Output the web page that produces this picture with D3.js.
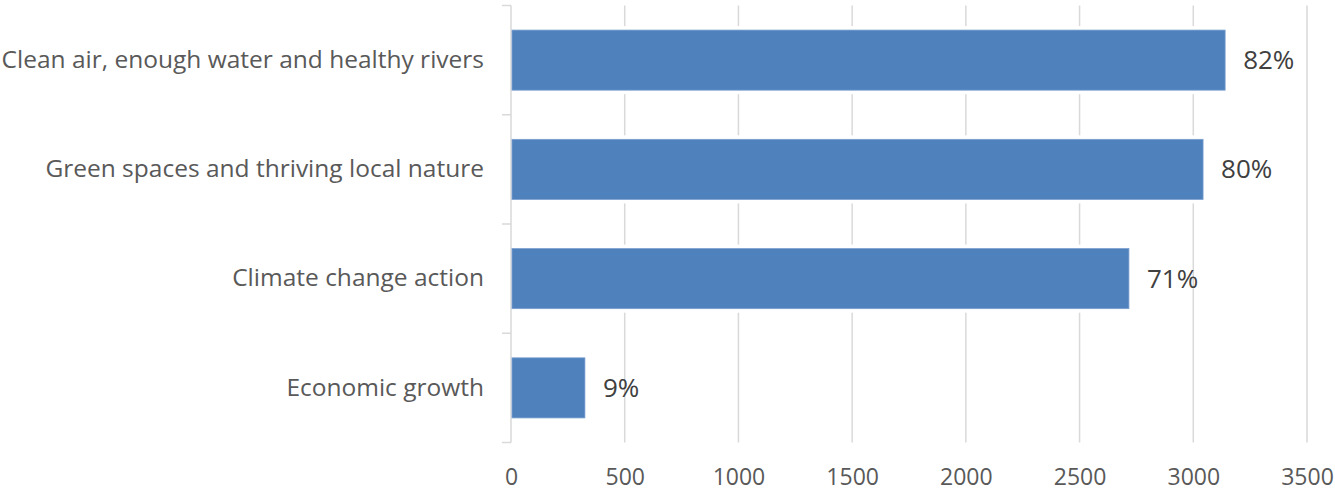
<!DOCTYPE html>
<html>
<head>
<meta charset="utf-8">
<script src="https://cdn.jsdelivr.net/npm/d3@7"></script>
<style>
  body { margin: 0; background: #fff; }
  text { font-family: "Open Sans", "Noto Sans", sans-serif; }
</style>
</head>
<body>
<script>
var categories = [
    "Clean air, enough water and healthy rivers",
    "Green spaces and thriving local nature",
    "Climate change action",
    "Economic growth"
];
var values = [3140, 3043, 2717, 325];
var percentLabels = ["82%", "80%", "71%", "9%"];
var xTicks = [0, 500, 1000, 1500, 2000, 2500, 3000, 3500];

var svg = d3.select("body")
    .append("svg")
    .attr("width", 1335)
    .attr("height", 491)
    .style("display", "block");

var margin = {top: 5.5, right: 28, bottom: 48.5, left: 511};
var width = 1335 - margin.left - margin.right;
var height = 491 - margin.top - margin.bottom;
var g = svg.append("g").attr("transform", "translate(" + margin.left + "," + margin.top + ")");

var x = d3.scaleLinear().domain([0, 3500]).range([0, width]);
var y = d3.scaleBand().domain(categories).range([0, height])
    .paddingInner(0.45).paddingOuter(0.225);

// gridlines
g.append("g")
    .selectAll("line")
    .data(xTicks.slice(1))
    .enter()
    .append("line")
    .attr("x1", function(d) { return x(d); })
    .attr("x2", function(d) { return x(d); })
    .attr("y1", 0)
    .attr("y2", height)
    .attr("stroke", "#d9d9d9")
    .attr("stroke-width", 1.5);

// x axis labels
var xAxis = d3.axisBottom(x).tickValues(xTicks).tickSize(0).tickPadding(26)
    .tickFormat(d3.format("d"));
g.append("g")
    .attr("transform", "translate(0," + height + ")")
    .call(xAxis)
    .call(function(s) { s.select(".domain").remove(); })
    .selectAll("text")
    .style("font-size", "23px")
    .style("font-family", "'Open Sans', sans-serif")
    .attr("fill", "#595959");

// y axis
var yAxis = d3.axisLeft(y).tickSize(0).tickPadding(27);
var yg = g.append("g").call(yAxis);
yg.select(".domain").remove();
yg.selectAll("text")
    .style("font-size", "24.5px")
    .style("font-family", "'Open Sans', sans-serif")
    .attr("fill", "#595959");

// y axis line + band boundary ticks
var bounds = categories.map(function(c) { return y(c) - y.step() * y.paddingInner() / 2; });
bounds.push(height);
g.append("line")
    .attr("x1", 0).attr("x2", 0)
    .attr("y1", 0).attr("y2", height)
    .attr("stroke", "#d9d9d9").attr("stroke-width", 1.5);
g.append("g")
    .selectAll("line")
    .data(bounds)
    .enter()
    .append("line")
    .attr("x1", -9).attr("x2", 0)
    .attr("y1", function(d) { return d; })
    .attr("y2", function(d) { return d; })
    .attr("stroke", "#d9d9d9").attr("stroke-width", 1.5);

// white halo behind bars
g.selectAll("rect.halo")
    .data(values)
    .enter()
    .append("rect")
    .attr("class", "halo")
    .attr("x", 1)
    .attr("y", function(d, i) { return y(categories[i]) - 4; })
    .attr("width", function(d) { return x(d) + 4; })
    .attr("height", y.bandwidth() + 8)
    .attr("fill", "#fff");

// bars
g.selectAll("rect.bar")
    .data(values)
    .enter()
    .append("rect")
    .attr("class", "bar")
    .attr("x", 1)
    .attr("y", function(d, i) { return y(categories[i]); })
    .attr("width", function(d) { return x(d) - 1; })
    .attr("height", y.bandwidth())
    .attr("fill", "#4f81bd")
    .attr("stroke", "#7a9fd0")
    .attr("stroke-width", 0.8);

// value labels
g.selectAll("text.val")
    .data(values)
    .enter()
    .append("text")
    .attr("class", "val")
    .attr("x", function(d) { return x(d) + 18; })
    .attr("y", function(d, i) { return y(categories[i]) + y.bandwidth() / 2; })
    .attr("dy", "0.35em")
    .text(function(d, i) { return percentLabels[i]; })
    .style("font-size", "26px")
    .attr("fill", "#404040");
</script>
</body>
</html>
